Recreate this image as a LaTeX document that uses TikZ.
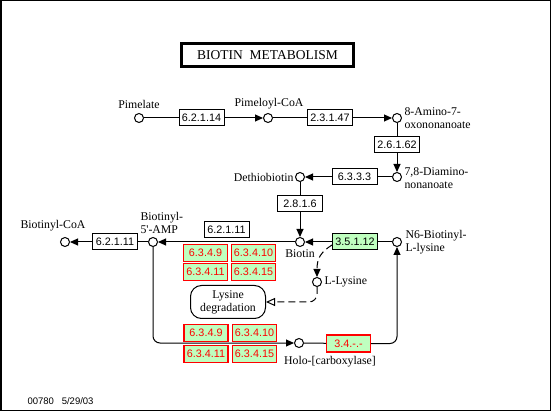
\documentclass[tikz,border=0pt]{standalone}
\usepackage{fontspec}
\setmainfont{Liberation Serif}
\newfontfamily\ecfont{Liberation Sans}
\newfontfamily\rawserif{Liberation Serif}[Ligatures=TeXOff]
\usetikzlibrary{arrows.meta}
\definecolor{kgreen}{RGB}{191,255,191}
\begin{document}
\begin{tikzpicture}[x=1pt,y=-1pt,line width=1pt,
  cpd/.style={circle,draw,fill=white,inner sep=0pt,minimum size=9pt},
  ec/.style={draw,fill=white,font=\ecfont\fontsize{10.8}{12}\selectfont,minimum width=45pt,minimum height=16pt,inner sep=0pt},
  ecg/.style={ec,fill=kgreen},
  ecr/.style={ec,fill=kgreen,draw=red,text=red,line width=1.3pt,minimum width=44pt,minimum height=17pt},
  lbl/.style={font=\fontsize{11.8}{13}\selectfont,inner sep=0pt},
  arr/.style={-{Triangle[length=8pt,width=7pt]}},
  oarr/.style={-{Triangle[open,length=9pt,width=8pt]}},
  dsh/.style={dash pattern=on 7pt off 4pt}
]
\useasboundingbox (0,0) rectangle (551,411);
\draw[line width=1.5pt] (0.75,0.75) rectangle (550.25,410.25);

% title
\node[draw,line width=3pt,minimum width=172pt,minimum height=23pt,font=\fontsize{13.5}{15}\selectfont] (title) at (267.5,55) {BIOTIN\ \ METABOLISM};

% compounds
\node[cpd] (pim) at (139,118) {};
\node[cpd] (pcoa) at (268,118) {};
\node[cpd] (aon) at (397,118) {};
\node[cpd] (dan) at (397,177) {};
\node[cpd] (dth) at (300,177) {};
\node[cpd] (bio) at (300,242) {};
\node[cpd] (amp) at (153,242) {};
\node[cpd] (bcoa) at (65,242) {};
\node[cpd] (lys) at (317,282) {};
\node[cpd] (n6) at (397,242) {};
\node[cpd] (holo) at (299,343) {};

% labels
\node[lbl] (lpim) at (139,104) {Pimelate};
\node[lbl] (lpcoa) at (269,104) {Pimeloyl-CoA};
\node[lbl,anchor=west,align=left] (laon) at (404,118.5) {8-Amino-7-\\oxononanoate};
\node[lbl,anchor=west,align=left] (ldan) at (404,178.5) {7,8-Diamino-\\nonanoate};
\node[lbl,anchor=east] (ldth) at (294,177) {Dethiobiotin};
\node[lbl] (lbio) at (300,254) {Biotin};
\node[lbl,anchor=west,align=left] (ln6) at (405,242.5) {N6-Biotinyl-\\L-lysine};
\node[lbl,anchor=west] (llys) at (324,282) {L-Lysine};
\node[lbl,anchor=west,align=left] (lamp) at (140,222.5) {Biotinyl-\\{\rawserif 5'-AMP}};
\node[lbl] (lbcoa) at (53,226) {Biotinyl-CoA};
\node[lbl] (lholo) at (330,362) {Holo-[carboxylase]};

% enzymes
\node[ec] (e1) at (201.5,118) {6.2.1.14};
\node[ec] (e2) at (330,118) {2.3.1.47};
\node[ec] (e3) at (397,145) {2.6.1.62};
\node[ec] (e4) at (354.5,177) {6.3.3.3};
\node[ec] (e5) at (300,204) {2.8.1.6};
\node[ecg] (e6) at (355,242) {3.5.1.12};
\node[ec] (e7) at (226.5,230) {6.2.1.11};
\node[ecr] (g1a) at (205.5,253) {6.3.4.9};
\node[ecr] (g1b) at (253.5,253) {6.3.4.10};
\node[ecr] (g1c) at (205.5,272) {6.3.4.11};
\node[ecr] (g1d) at (253.5,272) {6.3.4.15};
\node[ec] (e8) at (115,242) {6.2.1.11};
\node[ecr] (g2a) at (206,333) {6.3.4.9};
\node[ecr] (g2b) at (254.5,333) {6.3.4.10};
\node[ecr] (g2c) at (206,354) {6.3.4.11};
\node[ecr] (g2d) at (254.5,354) {6.3.4.15};
\node[ecr] (e9) at (348.5,343.5) {3.4.-.-};

% map
\node[draw,rounded corners=11pt,minimum width=75pt,minimum height=33pt,align=center,lbl] (ld) at (228,302) {Lysine\\degradation};

% connectors
\draw (pim) -- (e1);
\draw[arr] (e1) -- (pcoa);
\draw (pcoa) -- (e2);
\draw[arr] (e2) -- (aon);
\draw (aon) -- (e3);
\draw[arr] (e3) -- (dan);
\draw (dan) -- (e4);
\draw[arr] (e4) -- (dth);
\draw (dth) -- (e5);
\draw[arr] (e5) -- (bio);
\draw[arr] (e6) -- (bio);
\draw (e6) -- (n6);
\draw[arr] (bio) -- (amp);
\draw (amp) -- (e8);
\draw[arr] (e8) -- (bcoa);
\draw[dsh,arr] ([yshift=-3pt]e6.west) .. controls (321,252) and (317,258) .. (lys.north);
\draw[dsh,oarr,rounded corners=8pt] (lys.south) |- (ld.east);
\draw[arr,rounded corners=7pt] (amp.south) |- (holo.west);
\draw (holo) -- (e9);
\draw[arr,rounded corners=7pt] (e9.east) -| (n6.south);

\node[font=\ecfont\fontsize{9.5}{11}\selectfont,anchor=west,inner sep=0pt] (date) at (27,401) {00780\ \ \ 5/29/03};
\end{tikzpicture}
\end{document}
